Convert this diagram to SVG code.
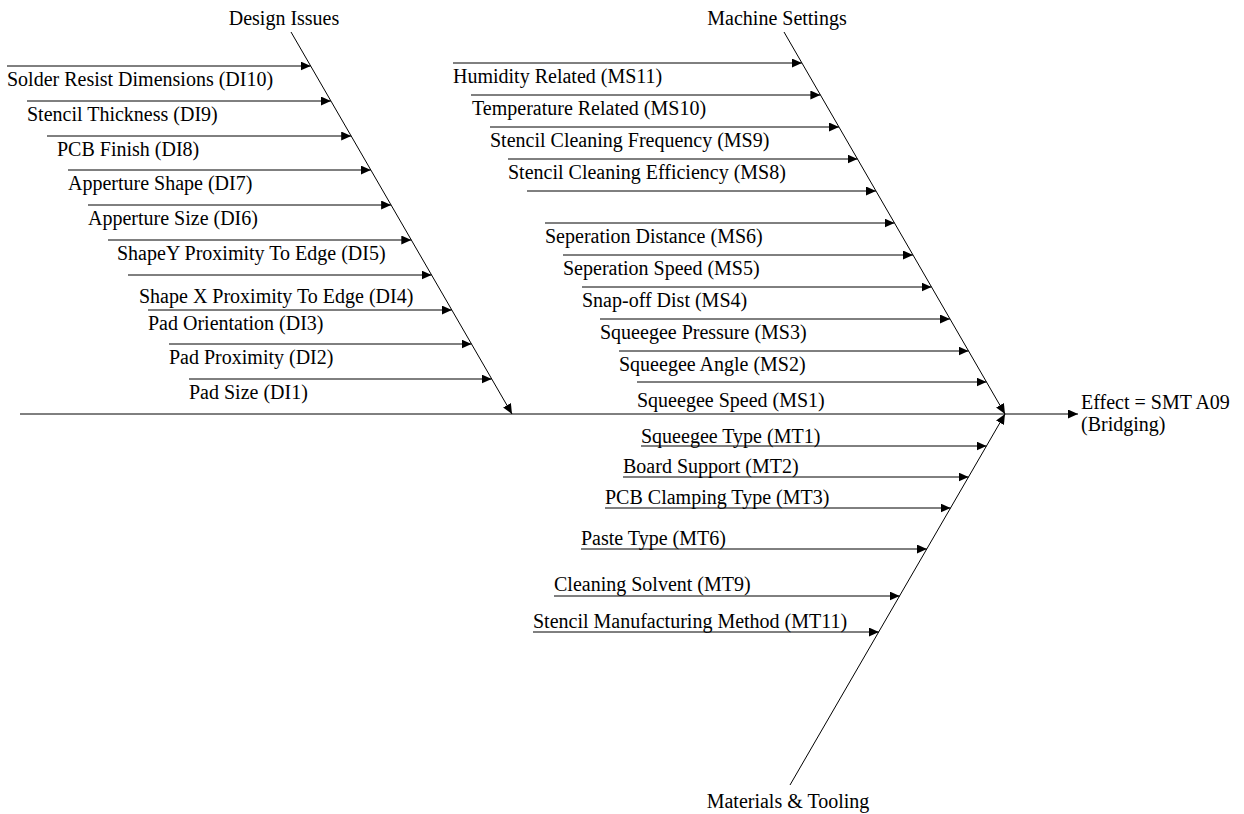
<svg xmlns="http://www.w3.org/2000/svg" width="1244" height="814" viewBox="0 0 1244 814">
<style>
text{font-family:'Liberation Serif','Times New Roman',Times,'DejaVu Serif',serif;font-size:20px;fill:#000}
.c{text-anchor:middle}
.br{stroke:#000;stroke-width:1;fill:none;marker-end:url(#ah)}
</style>
<defs>
<marker id="ah" markerUnits="userSpaceOnUse" markerWidth="11" markerHeight="10" refX="10" refY="4.5" orient="auto">
<path d="M0,0 L10,4.5 L0,9 Z" fill="#000"/>
</marker>
</defs>
<rect width="1244" height="814" fill="#fff"/>
<g id="connectors">
<line class="br" x1="20" y1="414" x2="1078" y2="414"/>
<line class="br" x1="291" y1="32" x2="512" y2="414"/>
<line class="br" x1="784" y1="32" x2="1005" y2="414"/>
<line class="br" x1="790" y1="785" x2="1005" y2="414"/>
<line class="br" x1="7" y1="66" x2="310.7" y2="66"/>
<line class="br" x1="27" y1="101" x2="330.9" y2="101"/>
<line class="br" x1="47" y1="136" x2="351.2" y2="136"/>
<line class="br" x1="68" y1="170" x2="370.8" y2="170"/>
<line class="br" x1="88" y1="205" x2="391.1" y2="205"/>
<line class="br" x1="108" y1="240" x2="411.3" y2="240"/>
<line class="br" x1="128" y1="275" x2="431.6" y2="275"/>
<line class="br" x1="148" y1="310" x2="451.8" y2="310"/>
<line class="br" x1="169" y1="344" x2="471.5" y2="344"/>
<line class="br" x1="189" y1="379" x2="491.7" y2="379"/>
<line class="br" x1="453" y1="63" x2="801.9" y2="63"/>
<line class="br" x1="471" y1="95" x2="820.4" y2="95"/>
<line class="br" x1="490" y1="127" x2="839" y2="127"/>
<line class="br" x1="508" y1="159" x2="857.5" y2="159"/>
<line class="br" x1="527" y1="191" x2="876" y2="191"/>
<line class="br" x1="545" y1="223" x2="894.5" y2="223"/>
<line class="br" x1="563" y1="255" x2="913" y2="255"/>
<line class="br" x1="582" y1="287" x2="931.5" y2="287"/>
<line class="br" x1="600" y1="319" x2="950" y2="319"/>
<line class="br" x1="619" y1="351" x2="968.5" y2="351"/>
<line class="br" x1="637" y1="382" x2="986.5" y2="382"/>
<line class="br" x1="641" y1="446" x2="986.5" y2="446"/>
<line class="br" x1="623" y1="477" x2="968.6" y2="477"/>
<line class="br" x1="605" y1="508" x2="950.6" y2="508"/>
<line class="br" x1="581" y1="549" x2="926.9" y2="549"/>
<line class="br" x1="554" y1="596" x2="899.7" y2="596"/>
<line class="br" x1="533" y1="632" x2="878.9" y2="632"/>
</g>
<g id="labels" font-family="Liberation Serif, serif">
<g id="cat-design"><text class="c" x="284" y="25">Design Issues</text></g>
<g id="cat-machine"><text class="c" x="777" y="25">Machine Settings</text></g>
<g id="cat-materials"><text class="c" x="788" y="808">Materials &amp; Tooling</text></g>
<g id="effect"><text x="1081" y="409">Effect = SMT A09</text><text x="1081" y="431">(Bridging)</text></g>
<g id="DI10"><text x="7" y="86">Solder Resist Dimensions (DI10)</text></g>
<g id="DI9"><text x="27" y="121">Stencil Thickness (DI9)</text></g>
<g id="DI8"><text x="57" y="156">PCB Finish (DI8)</text></g>
<g id="DI7"><text x="68" y="190">Apperture Shape (DI7)</text></g>
<g id="DI6"><text x="88" y="225">Apperture Size (DI6)</text></g>
<g id="DI5"><text x="117" y="260">ShapeY Proximity To Edge (DI5)</text></g>
<g id="DI4"><text x="139" y="303">Shape X Proximity To Edge (DI4)</text></g>
<g id="DI3"><text x="148" y="330">Pad Orientation (DI3)</text></g>
<g id="DI2"><text x="169" y="364">Pad Proximity (DI2)</text></g>
<g id="DI1"><text x="189" y="399">Pad Size (DI1)</text></g>
<g id="MS11"><text x="453" y="83">Humidity Related (MS11)</text></g>
<g id="MS10"><text x="472" y="115">Temperature Related (MS10)</text></g>
<g id="MS9"><text x="490" y="147">Stencil Cleaning Frequency (MS9)</text></g>
<g id="MS8"><text x="508" y="179">Stencil Cleaning Efficiency (MS8)</text></g>
<g id="MS6"><text x="545" y="243">Seperation Distance (MS6)</text></g>
<g id="MS5"><text x="563" y="275">Seperation Speed (MS5)</text></g>
<g id="MS4"><text x="582" y="307">Snap-off Dist (MS4)</text></g>
<g id="MS3"><text x="600" y="339">Squeegee Pressure (MS3)</text></g>
<g id="MS2"><text x="619" y="371">Squeegee Angle (MS2)</text></g>
<g id="MS1"><text x="637" y="407">Squeegee Speed (MS1)</text></g>
<g id="MT1"><text x="641" y="443">Squeegee Type (MT1)</text></g>
<g id="MT2"><text x="623" y="473">Board Support (MT2)</text></g>
<g id="MT3"><text x="605" y="504">PCB Clamping Type (MT3)</text></g>
<g id="MT6"><text x="581" y="545">Paste Type (MT6)</text></g>
<g id="MT9"><text x="554" y="591">Cleaning Solvent (MT9)</text></g>
<g id="MT11"><text x="533" y="628">Stencil Manufacturing Method (MT11)</text></g>
</g>
</svg>
